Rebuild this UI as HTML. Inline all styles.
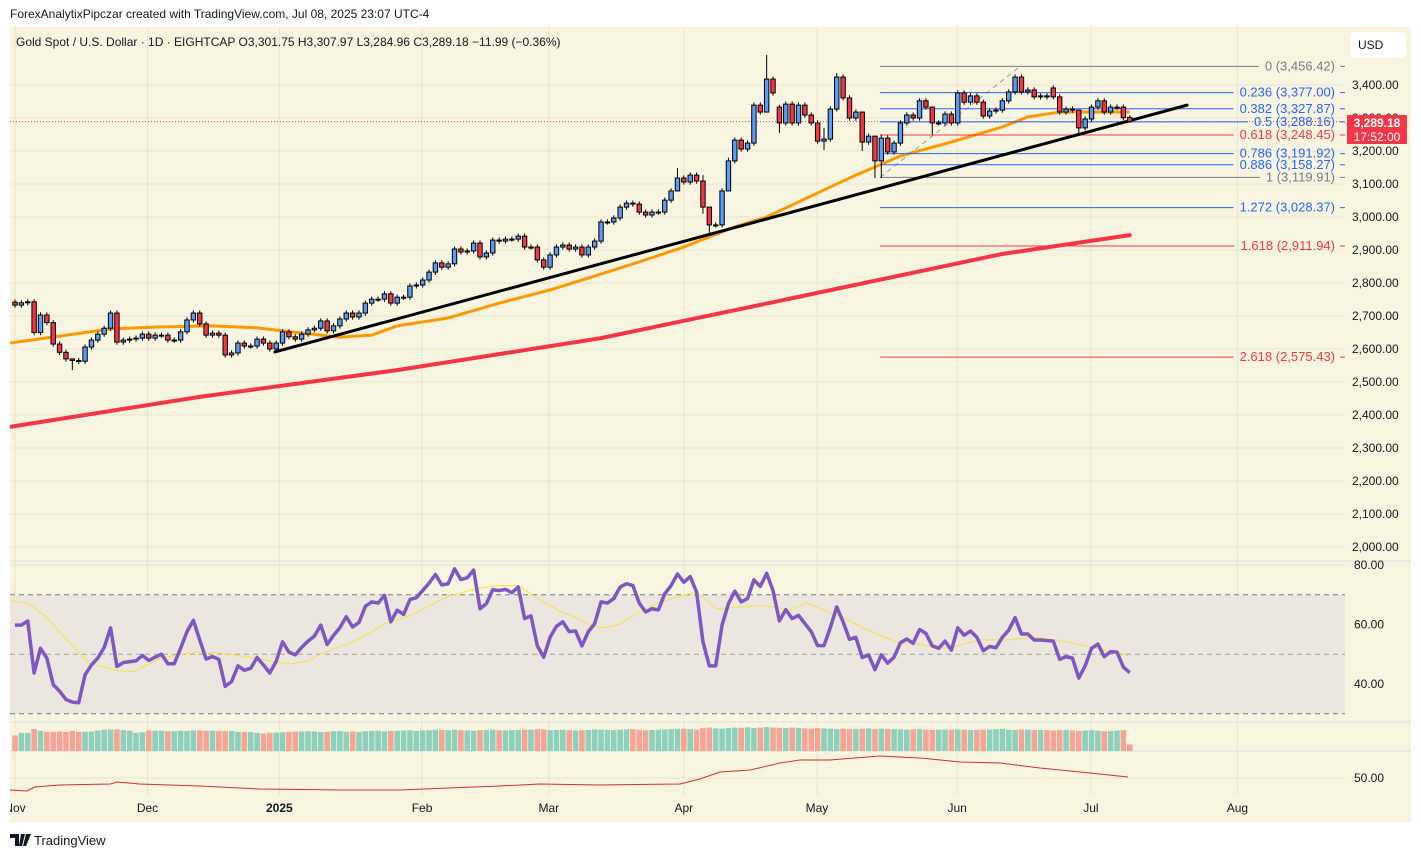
<!DOCTYPE html>
<html><head><meta charset="utf-8"><style>
html,body{margin:0;padding:0;background:#fff;}
body{width:1421px;height:858px;overflow:hidden;font-family:"Liberation Sans",sans-serif;}
svg text{font-family:"Liberation Sans",sans-serif;}
</style></head><body>
<svg id="chart" width="1421" height="858" viewBox="0 0 1421 858" xmlns="http://www.w3.org/2000/svg">
<rect x="0" y="0" width="1421" height="858" fill="#ffffff"/>
<text x="10" y="18" font-size="12" fill="#131722">ForexAnalytixPipczar created with TradingView.com, Jul 08, 2025 23:07 UTC-4</text>
<rect x="10" y="27" width="1401" height="795" fill="#f7f5e0"/>
<g id="grid"></g>
<rect x="10" y="594.6" width="1335" height="119" fill="#ebe6df"/>
<g id="panes"></g>
<g id="rsiG"></g>
<g id="volG"></g>
<g id="botG"></g>
<g id="maG"></g>
<g id="fibG"></g>
<g id="trendG"></g>
<g id="candleG"></g>
<g id="axisG"></g>
<text x="16" y="46" font-size="12" fill="#131722">Gold Spot / U.S. Dollar · 1D · EIGHTCAP  O3,301.75  H3,307.97  L3,284.96  C3,289.18  −11.99 (−0.36%)</text>
<rect x="1350" y="32" width="56" height="26" rx="4" fill="#ffffff"/>
<text x="1358" y="49" font-size="12" fill="#131722">USD</text>
<g>
<path d="M10 834h9v12h-4v-8h-5z M21 834h4l-3 12h-3z M26 834h5l-5 12h-3z" fill="#131722"/>
<text x="34" y="845" font-size="13" fill="#131722">TradingView</text>
</g>
</svg>
<script>
const closes=[2733,2740,2743,2650,2703,2680,2615,2590,2570,2565,2563,2606,2627,2645,2663,2709,2621,2627,2630,2633,
2645,2633,2642,2642,2627,2627,2652,2688,2709,2676,2642,2648,2642,2582,2588,2618,2609,2609,2630,2618,
2600,2618,2652,2637,2630,2645,2658,2663,2685,2655,2670,2691,2709,2697,2709,2739,2751,2751,2767,2739,
2757,2757,2791,2794,2809,2833,2861,2848,2858,2903,2894,2897,2921,2879,2891,2930,2927,2933,2933,2942,
2909,2909,2870,2848,2885,2909,2915,2903,2909,2885,2909,2927,2985,2985,2997,3030,3042,3039,3015,3006,
3015,3015,3051,3079,3118,3106,3127,3109,3030,2976,2976,3079,3170,3233,3206,3224,3339,3318,3418,3376,
3285,3342,3285,3339,3309,3285,3230,3236,3327,3424,3361,3300,3318,3227,3245,3170,3239,3197,3224,3285,
3309,3300,3352,3333,3285,3285,3312,3285,3376,3348,3367,3348,3306,3321,3324,3352,3379,3424,3379,3385,
3364,3367,3364,3364,3318,3327,3324,3270,3297,3333,3352,3318,3333,3333,3301,3289.18];
const firstOpen=2742;
const openOverrides={119:3418,120:3333,163:3391,175:3301.75};
const wickOverrides={9:[2570,2536],104:[3148,3100],108:[3127,3010],109:[2990,2952],112:[3180,3100],118:[3491,3330],120:[3340,3255],127:[3270,3203],129:[3436,3320],133:[3265,3200],135:[3245,3118],136:[3250,3118],144:[3300,3250],167:[3305,3250],175:[3307.97,3284.96]};
const rsi=[59.8,59.8,61.2,43.7,52,48.7,39.8,37.6,34.8,33.9,33.7,43.1,46.4,48.7,52.3,58.9,45.9,47.2,47.5,47.8,
49.6,47.9,49,50,46.8,46.8,52,57.6,61.4,54.8,48.4,49.2,48.3,39.2,40.8,46.1,44.6,45.3,48.9,46.4,
43.7,47.6,54.2,50.7,49.8,52.3,54.4,56.1,59.8,53.3,56.3,58.9,62.6,59.2,60.7,66.1,67.6,67.2,69.8,60.9,
64.8,63.4,68.4,69,71.4,73.9,76.8,73.3,73.7,78.7,75.1,75.7,78.3,65.3,67,71.7,71.4,71.8,70.7,72.6,
62,62.9,52.8,49,55.7,59.4,60.9,57.6,57.8,52.8,57.6,60.3,67.6,67.2,68.7,72.6,73.7,73.1,67.2,64.2,
65.3,64.9,70.3,73.1,77,74.2,76.1,70.9,54.2,46.1,46.1,59.8,67,71.2,67.6,68.7,75,72.8,77.2,71.4,
61.2,65,62,63.1,60.3,57.6,52.9,52.9,59,65.9,60.9,55,55.7,48.9,49.8,44.8,49.8,47,49,53.9,
55.1,53.7,58.3,57,52.8,52,54.4,51.4,58.9,56.4,57.8,55.7,51.2,52.6,52.2,55.7,58.1,62.3,56.8,56.8,
54.8,54.8,54.6,54.4,48.3,49.2,48.7,42,46.1,52,53.4,49.2,50.9,50.7,45.7,43.8];
const rsiMaIdx=[-0.8,1.9,4.9,7.7,11.6,16.2,18.7,22.9,27.9,31.9,36.9,43,45.8,48,53.7,58.2,62.2,67.7,72.2,76.1,79,82.9,85.6,87.8,90.6,92.8,95.1,98,101.3,106.9,110.2,113.7,117,119.2,121.5,124.2,127.6,129.8,133.3,138.8,141.6,145,146.6,151.2,155.6,160.1,163.4,168.6,173.5,174.7];
const rsiMaVal=[67.9,67.3,62.6,55.9,47,44.4,44.2,48.7,50.7,50.6,48.9,46.7,47.6,50,54.8,60.3,63.1,69.2,72,73.1,73.1,67.6,64.5,62.6,59.4,58.9,60.3,64.2,67.6,70.9,65.3,65.9,66.4,65.9,64.8,67.3,64.2,62.6,58.7,53.7,53.4,52.3,52,54.8,54.8,55.7,54.8,52.6,50.3,49.5];
const volumes=[60,70,70,85,78,74,74,75,74,77,74,74,75,79,82,83,83,80,78,70,
72,79,78,78,76,76,78,77,79,79,78,78,76,77,77,74,73,73,70,67,
70,71,72,74,75,75,76,75,73,74,76,77,74,75,73,76,77,78,75,77,
78,79,80,77,79,80,82,81,80,82,80,79,78,80,81,82,80,79,80,81,
83,82,84,83,80,81,82,80,79,80,81,83,82,81,80,82,83,84,82,80,
81,82,83,84,85,86,84,82,88,90,87,86,88,90,89,91,88,90,92,90,
89,88,90,89,87,86,88,87,86,85,86,84,85,86,87,84,86,85,84,83,
82,83,84,82,81,82,83,82,83,82,80,81,82,83,84,85,82,81,83,82,
80,81,80,79,80,81,79,77,79,80,78,76,77,79,80,25];
const ma50Idx=[-0.8,7,15,23,31,38,45,51,56,60,68,76,84,90,98,105,113,118,127,131,139,147,155,159,164,175];
const ma50Val=[2618,2639,2661,2667,2670,2664,2648,2636,2642,2670,2694,2739,2779,2815,2864,2909,2970,3000,3082,3118,3185,3227,3273,3303,3318,3318];
const ma200Idx=[-0.8,29,60,92,123,155,175];
const ma200Val=[2364,2455,2536,2633,2758,2888,2945];
const lowerIdx=[-0.8,1.9,3.1,7,15,16,19.6,29,38.5,51,60.4,68,76.1,82.4,91.8,104.4,107.5,110.7,115.4,120.1,123.2,127.9,135.8,142.1,148.4,154.6,160.9,167.2,170.3,174.7];
const lowerVal=[44,43.5,45.5,46.5,47,48,47,46,44.5,44,44,45,46,47,46.5,47,49.5,53,54,57.5,59,59,61,60,58,57.5,55,53,52,50.5];
const fibRatios=["0","0.236","0.382","0.5","0.618","0.786","0.886","1","1.272","1.618","2.618"];
const fibPrices=[3456.42,3377.00,3327.87,3288.16,3248.45,3191.92,3158.27,3119.91,3028.37,2911.94,2575.43];
const fibColors=["#787b86","#2962ff","#2962ff","#2962ff","#f23645","#2962ff","#2962ff","#787b86","#2962ff","#f23645","#f23645"];
const fibStartIdx=135.8;
const fibSwing=[[135.8,3119.91],[157.8,3456.42]];
const trendPts=[[40.8,2591],[184,3339]];
const priceTicks=[3400,3300,3200,3100,3000,2900,2800,2700,2600,2500,2400,2300,2200,2100,2000];
const rsiTicks=[80,60,40];
const monthLabels=["Nov","Dec","2025","Feb","Mar","Apr","May","Jun","Jul","Aug"];
const monthIdx=[0,20.8,41.5,63.9,83.8,105,125.9,147.9,168.9,191.9];

const NS="http://www.w3.org/2000/svg";
const X0=15,DX=6.37;
const xOf=i=>X0+i*DX;
const yP=p=>85+(3400-p)*0.33;
const yR=v=>565+(80-v)*2.975;
const yB=v=>778-(v-50)*2;
const yV=v=>751-v*0.26;
function mk(parent,tag,attrs,txt){const e=document.createElementNS(NS,tag);for(const k in attrs)e.setAttribute(k,attrs[k]);if(txt!==undefined)e.textContent=txt;document.getElementById(parent).appendChild(e);return e;}
const fmt=p=>p.toLocaleString('en-US',{minimumFractionDigits:2,maximumFractionDigits:2});

// grid
priceTicks.forEach(p=>{const l=mk('grid','line',{x1:10,x2:1345,y1:yP(p),y2:yP(p),stroke:'#e7e5cf','stroke-width':1});

});
rsiTicks.forEach(v=>{const l=mk('grid','line',{x1:10,x2:1345,y1:yR(v),y2:yR(v),stroke:'#e2dfcf','stroke-width':1});

});
{const l=mk('grid','line',{x1:10,x2:1345,y1:yB(50),y2:yB(50),stroke:'#e7e5cf','stroke-width':1});

}
monthIdx.forEach(i=>{const l=mk('grid','line',{x1:xOf(i),x2:xOf(i),y1:27,y2:795,stroke:'#e7e5cf','stroke-width':1});

});

// pane separators
[561,722,751].forEach(y=>{const l=mk('panes','line',{x1:10,x2:1411,y1:y,y2:y,stroke:'#dcdee3','stroke-width':1});

});

// RSI dashed levels
[70,50,30].forEach(v=>{const l=mk('rsiG','line',{x1:10,x2:1345,y1:yR(v),y2:yR(v),stroke:v==50?'#a3a3a3':'#787b86','stroke-width':1,'stroke-dasharray':'5,4'});

});
{const pm=mk('rsiG','polyline',{points:rsiMaIdx.map((i,k)=>xOf(i)+','+yR(rsiMaVal[k])).join(' '),fill:'none',stroke:'#f7e33f','stroke-width':1});


const pr=mk('rsiG','polyline',{points:rsi.map((v,i)=>xOf(i)+','+yR(v)).join(' '),fill:'none',stroke:'#7e57c2','stroke-width':3.5,'stroke-linejoin':'round'});

}

// opens
const opens=closes.map((c,i)=>openOverrides[i]!==undefined?openOverrides[i]:(i===0?firstOpen:closes[i-1]));

// volume
volumes.forEach((v,i)=>{const up=closes[i]>=opens[i];const r=mk('volG','rect',{x:xOf(i)-2.8,y:yV(v),width:5.6,height:751-yV(v),fill:up?'#8fd0bc':'#f5a596'});

});

// lower pane
{const p=mk('botG','polyline',{points:lowerIdx.map((i,k)=>xOf(i)+','+yB(lowerVal[k])).join(' '),fill:'none',stroke:'#c9302c','stroke-width':1});

}

// MAs
{const a=mk('maG','polyline',{points:ma200Idx.map((i,k)=>xOf(i)+','+yP(ma200Val[k])).join(' '),fill:'none',stroke:'#f23645','stroke-width':4,'stroke-linecap':'round'});


const b=mk('maG','polyline',{points:ma50Idx.map((i,k)=>xOf(i)+','+yP(ma50Val[k])).join(' '),fill:'none',stroke:'#ff9800','stroke-width':3,'stroke-linejoin':'round'});

}

// last price dotted line
{const l=mk('maG','line',{x1:10,x2:1345,y1:yP(closes[closes.length-1]),y2:yP(closes[closes.length-1]),stroke:'#f23645','stroke-width':1,'stroke-dasharray':'1,2'});

}

// fib
{const d=mk('fibG','line',{x1:xOf(fibSwing[0][0]),y1:yP(fibSwing[0][1]),x2:xOf(fibSwing[1][0]),y2:yP(fibSwing[1][1]),stroke:'#9598a1','stroke-width':1,'stroke-dasharray':'5,4'});

}
fibRatios.forEach((r,k)=>{const y=yP(fibPrices[k]);
const t=mk('fibG','text',{x:1335,y:y+4,'font-size':13,'text-anchor':'end',fill:fibColors[k]},r+' ('+fmt(fibPrices[k])+')');


let w=t.getComputedTextLength?t.getComputedTextLength():100;if(!w)w=100;
const l=mk('fibG','line',{x1:xOf(fibStartIdx),x2:1335-w-6,y1:y,y2:y,stroke:fibColors[k],'stroke-width':1});


const tk=mk('fibG','line',{x1:1340,x2:1345,y1:y,y2:y,stroke:fibColors[k],'stroke-width':1});

});

// trendline
{const l=mk('trendG','line',{x1:xOf(trendPts[0][0]),y1:yP(trendPts[0][1]),x2:xOf(trendPts[1][0]),y2:yP(trendPts[1][1]),stroke:'#000','stroke-width':3,'stroke-linecap':'round'});

}

// candles
closes.forEach((c,i)=>{const o=opens[i];const up=c>=o;const x=xOf(i);
let hi=Math.max(o,c)+8,lo=Math.min(o,c)-8;if(wickOverrides[i]){hi=wickOverrides[i][0];lo=wickOverrides[i][1];}
const w=mk('candleG','line',{x1:x,x2:x,y1:yP(hi),y2:yP(lo),stroke:'#000','stroke-width':1});


const top=yP(Math.max(o,c)),h=Math.max(1,yP(Math.min(o,c))-top);
const b=mk('candleG','rect',{x:x-2.2,y:top,width:4.4,height:h,fill:up?'#5b9cf6':'#f23645',stroke:'#000','stroke-width':1});

});

// axes labels
priceTicks.forEach(p=>{const t=mk('axisG','text',{x:1352,y:yP(p)+4,'font-size':12,fill:'#131722'},fmt(p));

});
rsiTicks.forEach(v=>{const t=mk('axisG','text',{x:1354,y:yR(v)+4,'font-size':12,fill:'#131722'},v.toFixed(2));

});
{const t=mk('axisG','text',{x:1354,y:yB(50)+4,'font-size':12,fill:'#131722'},'50.00');

}
monthLabels.forEach((m,k)=>{const t=mk('axisG','text',{x:xOf(monthIdx[k]),y:812,'font-size':12,'text-anchor':'middle',fill:'#131722','font-weight':m==='2025'?'bold':'normal'},m);

});
{const r=mk('axisG','rect',{x:1347,y:115,width:60,height:29,fill:'#f23645',rx:1});


const t1=mk('axisG','text',{x:1377,y:127,'font-size':12,'text-anchor':'middle',fill:'#fff','font-weight':'bold'},fmt(closes[closes.length-1]));


const t2=mk('axisG','text',{x:1377,y:141,'font-size':12,'text-anchor':'middle',fill:'#fff'},'17:52:00');

}
// white strip right of panel / left of panel edge
{const r=mk('axisG','rect',{x:0,y:27,width:10,height:795,fill:'#ffffff'});

}
</script>
</body></html>
